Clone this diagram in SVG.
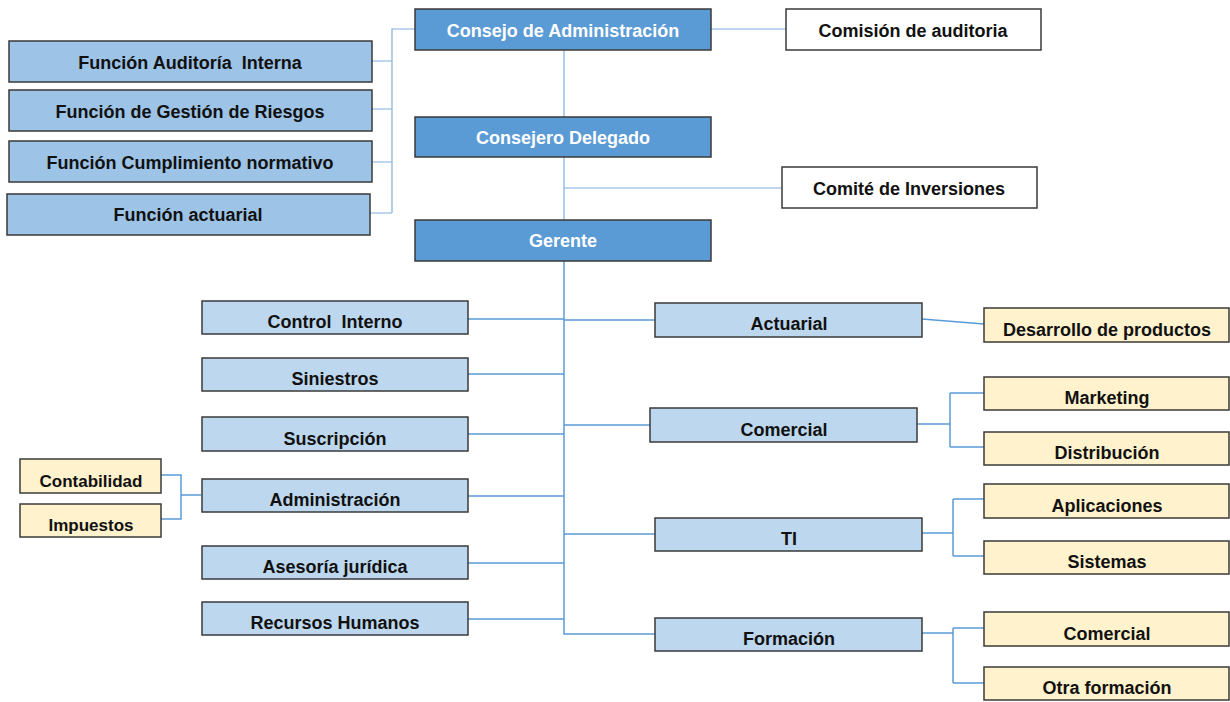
<svg xmlns="http://www.w3.org/2000/svg" width="1230" height="702" viewBox="0 0 1230 702">
<style>
.box{stroke:#3a3a3a;stroke-width:1.5}
.dk{fill:#5b9bd5}
.md{fill:#9dc3e6}
.lt{fill:#bdd7ee}
.yl{fill:#fff2cc}
.wh{fill:#ffffff}
text{font-family:"Liberation Sans",Arial,sans-serif;font-weight:bold;font-size:18px;text-anchor:middle;fill:#111}
.s17{font-size:17px}
.w{fill:#ffffff}
.pre{white-space:pre}
#connectors path{fill:none;stroke:#5b9bd5;stroke-width:1.5}
#connectors .thin{stroke:#7fb0de;stroke-width:1.2}
</style>
<rect x="0" y="0" width="1230" height="702" fill="#ffffff"/>
<g id="connectors">
<path class="thin" d="M415 29H392V213M372 61H392M372 109H392M372 162H392M370 213H392"/>
<path class="thin" d="M711 29H786"/>
<path class="thin" d="M564 50V117M564 157V220M564 188H782"/>
<path d="M564 261V634H655"/>
<path d="M468 319H564M468 374H564M468 434H564M468 496H564M468 563H564M468 619H564"/>
<path d="M564 320H655M564 425H650M564 534H655"/>
<path d="M161 475H181V519H161M181 495H201"/>
<path d="M922 319L984 324"/>
<path d="M917 424H950M950 393V447M950 393H984M950 447H984"/>
<path d="M922 533H953M953 499V556M953 499H984M953 556H984"/>
<path d="M922 633H953M953 628V683M953 628H984M953 683H984"/>
</g>
<g id="n-consejo"><rect class="box dk" x="415" y="9" width="296" height="41"/><text class="w" x="563" y="37">Consejo de Administración</text></g>
<g id="n-comision"><rect class="box wh" x="786" y="9" width="255" height="41"/><text x="913" y="37">Comisión de auditoria</text></g>
<g id="n-delegado"><rect class="box dk" x="415" y="117" width="296" height="40"/><text class="w" x="563" y="144">Consejero Delegado</text></g>
<g id="n-comite"><rect class="box wh" x="782" y="167" width="255" height="41"/><text x="909" y="195">Comité de Inversiones</text></g>
<g id="n-gerente"><rect class="box dk" x="415" y="220" width="296" height="41"/><text class="w" x="563" y="247">Gerente</text></g>
<g id="n-f-auditoria"><rect class="box md" x="9" y="41" width="363" height="41"/><text class="pre" x="190" y="69">Función Auditoría  Interna</text></g>
<g id="n-f-riesgos"><rect class="box md" x="9" y="90" width="363" height="41"/><text x="190" y="118">Función de Gestión de Riesgos</text></g>
<g id="n-f-cumplimiento"><rect class="box md" x="9" y="141" width="363" height="41"/><text x="190" y="169">Función Cumplimiento normativo</text></g>
<g id="n-f-actuarial"><rect class="box md" x="7" y="194" width="363" height="41"/><text x="188" y="221">Función actuarial</text></g>
<g id="n-control"><rect class="box lt" x="202" y="301" width="266" height="33"/><text class="pre" x="335" y="328">Control  Interno</text></g>
<g id="n-siniestros"><rect class="box lt" x="202" y="358" width="266" height="33"/><text x="335" y="385">Siniestros</text></g>
<g id="n-suscripcion"><rect class="box lt" x="202" y="417" width="266" height="34"/><text x="335" y="445">Suscripción</text></g>
<g id="n-administracion"><rect class="box lt" x="202" y="479" width="266" height="33"/><text x="335" y="506">Administración</text></g>
<g id="n-asesoria"><rect class="box lt" x="202" y="546" width="266" height="33"/><text x="335" y="573">Asesoría jurídica</text></g>
<g id="n-rrhh"><rect class="box lt" x="202" y="602" width="266" height="33"/><text x="335" y="629">Recursos Humanos</text></g>
<g id="n-contabilidad"><rect class="box yl" x="20" y="459" width="141" height="34"/><text class="s17" x="91" y="487">Contabilidad</text></g>
<g id="n-impuestos"><rect class="box yl" x="20" y="504" width="141" height="33"/><text class="s17" x="91" y="531">Impuestos</text></g>
<g id="n-actuarial"><rect class="box lt" x="655" y="303" width="267" height="34"/><text x="789" y="330">Actuarial</text></g>
<g id="n-comercial"><rect class="box lt" x="650" y="408" width="267" height="34"/><text x="784" y="436">Comercial</text></g>
<g id="n-ti"><rect class="box lt" x="655" y="518" width="267" height="33"/><text x="789" y="545">TI</text></g>
<g id="n-formacion"><rect class="box lt" x="655" y="618" width="267" height="33"/><text x="789" y="645">Formación</text></g>
<g id="n-desarrollo"><rect class="box yl" x="984" y="308" width="245" height="34"/><text x="1107" y="336">Desarrollo de productos</text></g>
<g id="n-marketing"><rect class="box yl" x="984" y="377" width="245" height="33"/><text x="1107" y="404">Marketing</text></g>
<g id="n-distribucion"><rect class="box yl" x="984" y="432" width="245" height="33"/><text x="1107" y="459">Distribución</text></g>
<g id="n-aplicaciones"><rect class="box yl" x="984" y="484" width="245" height="34"/><text x="1107" y="512">Aplicaciones</text></g>
<g id="n-sistemas"><rect class="box yl" x="984" y="541" width="245" height="33"/><text x="1107" y="568">Sistemas</text></g>
<g id="n-f-comercial"><rect class="box yl" x="984" y="612" width="245" height="34"/><text x="1107" y="640">Comercial</text></g>
<g id="n-otra"><rect class="box yl" x="984" y="667" width="245" height="33"/><text x="1107" y="694">Otra formación</text></g>
</svg>
